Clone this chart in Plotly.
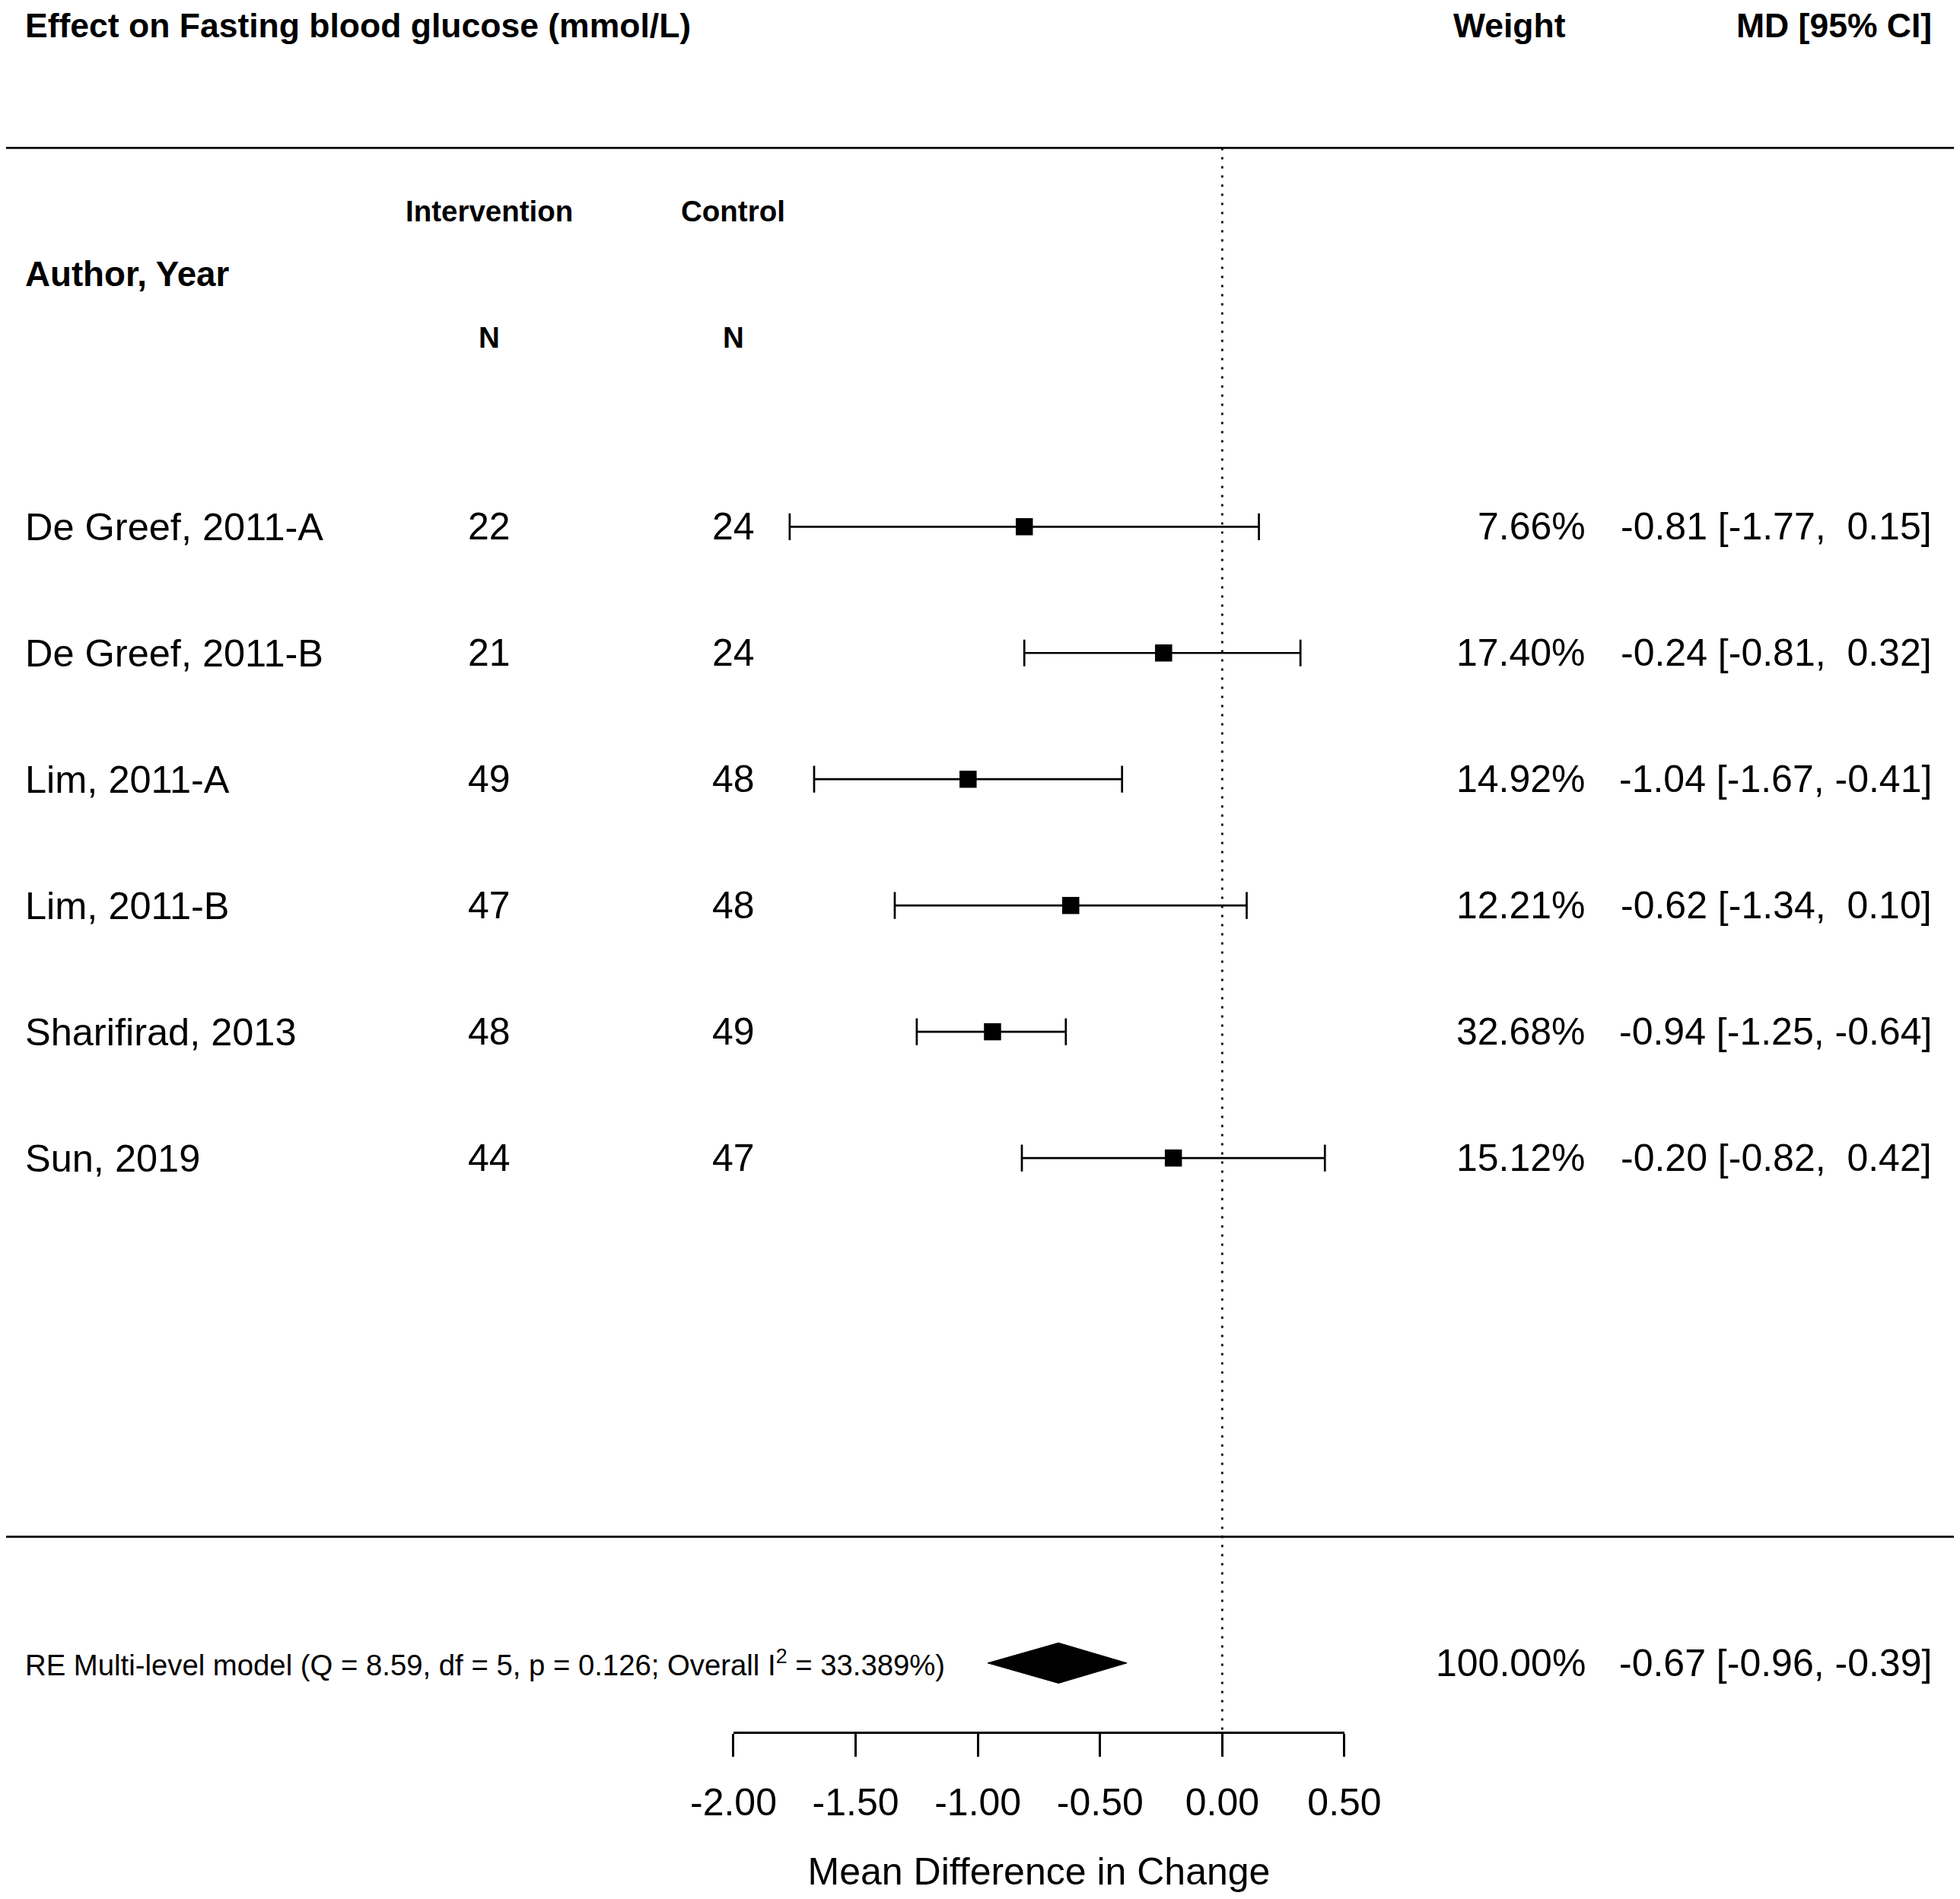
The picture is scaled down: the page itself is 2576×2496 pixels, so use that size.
import plotly.graph_objects as go

# ---------------- data ----------------
title_text = "Effect on Fasting blood glucose (mmol/L)"
studies = ["De Greef, 2011-A", "De Greef, 2011-B", "Lim, 2011-A",
           "Lim, 2011-B", "Sharifirad, 2013", "Sun, 2019"]
n_intervention = [22, 21, 49, 47, 48, 44]
n_control = [24, 24, 48, 48, 49, 47]
weights = [7.66, 17.40, 14.92, 12.21, 32.68, 15.12]
md_est = [-0.81, -0.24, -1.04, -0.62, -0.94, -0.20]
md_lo = [-1.77, -0.81, -1.67, -1.34, -1.25, -0.82]
md_hi = [0.15, 0.32, -0.41, 0.10, -0.64, 0.42]
study_rows = [6, 5, 4, 3, 2, 1]

pooled_label = "RE Multi-level model (Q = 8.59, df = 5, p = 0.126; Overall I<sup>2</sup> = 33.389%)"
pooled_weight = 100.00
pooled_est = -0.67
pooled_lo = -0.96
pooled_hi = -0.39
pooled_row = -3

x_ticks = [-2.0, -1.5, -1.0, -0.5, 0.0, 0.5]
x_title = "Mean Difference in Change"

# ---------------- layout constants ----------------
# page is 2576x2496; the html body keeps an 8px margin, so the figure is 16px smaller
W, H = 2560, 2480
X_RANGE = [-4.9763, 2.9938]
Y_RANGE = [-4.8206, 10.1235]
FONT = "Liberation Sans, Arial, Helvetica, sans-serif"
LW = 2.7
BLACK = "black"
AXIS_ROW = -3.55
TOP_RULE = 9
BOTTOM_RULE = -2
HEADER_ROW = 9.967

fig = go.Figure()

# horizontal rules
for r in (TOP_RULE, BOTTOM_RULE):
    fig.add_trace(go.Scatter(x=[-5.0, 3.0], y=[r, r], mode="lines",
                             line=dict(color=BLACK, width=LW),
                             hoverinfo="skip", showlegend=False))

# dotted reference line at 0
fig.add_trace(go.Scatter(x=[0, 0], y=[TOP_RULE, AXIS_ROW], mode="lines",
                         line=dict(color=BLACK, width=LW, dash="3px,9px"),
                         hoverinfo="skip", showlegend=False))

# study CIs and squares
fig.add_trace(go.Scatter(
    x=md_est, y=study_rows, mode="markers",
    marker=dict(symbol="square", size=22.5, color=BLACK, line=dict(width=0)),
    error_x=dict(type="data", symmetric=False,
                 array=[h - e for h, e in zip(md_hi, md_est)],
                 arrayminus=[e - l for e, l in zip(md_est, md_lo)],
                 color=BLACK, thickness=LW, width=17.6),
    hoverinfo="skip", showlegend=False))

# pooled diamond
DH = 0.16
fig.add_trace(go.Scatter(
    x=[pooled_lo, pooled_est, pooled_hi, pooled_est, pooled_lo],
    y=[pooled_row, pooled_row + DH, pooled_row, pooled_row - DH, pooled_row],
    mode="lines", fill="toself", fillcolor=BLACK,
    line=dict(color=BLACK, width=1), hoverinfo="skip", showlegend=False))

# invisible trace to materialise the bottom axis
fig.add_trace(go.Scatter(x=x_ticks, y=[AXIS_ROW] * len(x_ticks), xaxis="x2", yaxis="y",
                         mode="markers", marker=dict(opacity=0, size=1),
                         hoverinfo="skip", showlegend=False))


def txt(x, y, s, size, bold=False, anchor="left"):
    fig.add_annotation(x=x, y=y, xref="x", yref="y",
                       text=("<b>%s</b>" % s) if bold else s,
                       showarrow=False, xanchor=anchor, yanchor="middle",
                       borderpad=0, borderwidth=0,
                       font=dict(family=FONT, size=size, color=BLACK))


NB = "\u00a0"


def fmt(v):
    return ("%5.2f" % v).replace(" ", NB)


X_LEFT = -4.897
X_INT = -3.0
X_CTL = -2.0
X_WT = 1.487
X_MD = 2.902

# headers
txt(X_LEFT, HEADER_ROW, title_text, 44.5, bold=True)
txt(1.407, HEADER_ROW, "Weight", 44.5, bold=True, anchor="right")
txt(X_MD, HEADER_ROW, "MD [95% CI]", 44.5, bold=True, anchor="right")
txt(X_INT, 8.5, "Intervention", 38.5, bold=True, anchor="center")
txt(X_CTL, 8.5, "Control", 38.5, bold=True, anchor="center")
txt(X_LEFT, 8, "Author, Year", 45.7, bold=True)
txt(X_INT, 7.5, "N", 38.5, bold=True, anchor="center")
txt(X_CTL, 7.5, "N", 38.5, bold=True, anchor="center")

# study rows text
for i, r in enumerate(study_rows):
    txt(X_LEFT, r, studies[i], 50.5)
    txt(X_INT, r, str(n_intervention[i]), 50, anchor="center")
    txt(X_CTL, r, str(n_control[i]), 50, anchor="center")
    txt(X_WT, r, "%.2f%%" % weights[i], 50, anchor="right")
    txt(X_MD, r, "%s [%s, %s]" % (fmt(md_est[i]), fmt(md_lo[i]), fmt(md_hi[i])),
        50, anchor="right")

# pooled row text
txt(X_LEFT, pooled_row, pooled_label, 38.3)
txt(X_WT, pooled_row, "%.2f%%" % pooled_weight, 50, anchor="right")
txt(X_MD, pooled_row, "%s [%s, %s]" % (fmt(pooled_est), fmt(pooled_lo), fmt(pooled_hi)),
    50, anchor="right")

span = X_RANGE[1] - X_RANGE[0]
dom2 = [(x_ticks[0] - X_RANGE[0]) / span, (x_ticks[-1] - X_RANGE[0]) / span]
pos2 = (AXIS_ROW - Y_RANGE[0]) / (Y_RANGE[1] - Y_RANGE[0])

fig.update_layout(
    template="none",
    width=W, height=H, autosize=False,
    margin=dict(l=0, r=0, t=0, b=0, pad=0, autoexpand=False),
    paper_bgcolor="white", plot_bgcolor="rgba(0,0,0,0)",
    showlegend=False,
    font=dict(family=FONT, color=BLACK),
    xaxis=dict(range=X_RANGE, visible=False, fixedrange=True, domain=[0, 1],
               automargin=False),
    yaxis=dict(range=Y_RANGE, visible=False, fixedrange=True, domain=[0, 1],
               automargin=False),
    xaxis2=dict(range=[x_ticks[0], x_ticks[-1]], domain=dom2, anchor="free",
                position=pos2, showline=True, linecolor=BLACK, linewidth=LW,
                ticks="outside", ticklen=30, tickwidth=LW, tickcolor=BLACK,
                tickvals=x_ticks, ticktext=["%.2f" % t for t in x_ticks],
                tickfont=dict(family=FONT, size=50, color=BLACK),
                ticklabelstandoff=17, automargin=False,
                showgrid=False, zeroline=False, fixedrange=True,
                title=dict(text=x_title, font=dict(family=FONT, size=50, color=BLACK),
                           standoff=47)),
)

fig.write_html("out.html")
